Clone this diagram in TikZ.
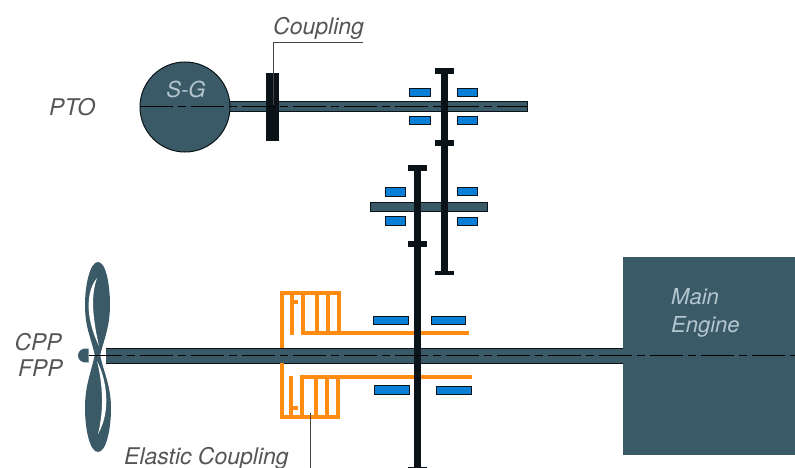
\documentclass[tikz,border=0pt]{standalone}
\usepackage{fontspec}
\setmainfont{TeX Gyre Heros}
\definecolor{steel}{HTML}{3B5A68}
\definecolor{inkblack}{HTML}{0A1418}
\definecolor{bearingblue}{HTML}{0A7FD8}
\definecolor{coupleorange}{HTML}{FF8C10}
\definecolor{labelgray}{HTML}{555555}
\definecolor{palelabel}{HTML}{B4C6CE}
\tikzset{
  shaft/.style={fill=steel,draw=inkblack,line width=0.8pt},
  bearing/.style={fill=bearingblue,draw=inkblack,line width=0.7pt},
  gearbar/.style={fill=inkblack,draw=none},
  clutch/.style={draw=coupleorange,line width=3.5pt,line cap=butt,line join=miter},
  axisline/.style={draw=black,line width=1pt,dash pattern=on 33pt off 5pt on 8pt off 5pt},
  leader/.style={draw=labelgray!80!black,line width=1pt},
  lab/.style={font=\itshape\fontsize{23}{26}\selectfont,text=labelgray,inner sep=0pt},
  palelab/.style={font=\itshape\fontsize{22}{25}\selectfont,text=palelabel,inner sep=0pt}
}
\begin{document}
\begin{tikzpicture}[x=1pt,y=-1pt]
\useasboundingbox (0,0) rectangle (795,468);
% engine
\fill[steel] (623,257) rectangle (795,455);
% PTO shaft and generator
\draw[shaft] (228,101.5) rectangle (527,111);
\draw[shaft,line width=1pt] (185,107) circle (45);
% intermediate shaft
\draw[shaft] (370,202) rectangle (487,211);
% main shaft
\fill[steel] (106,348) rectangle (623,363);
\draw[inkblack,line width=0.6pt] (106,348) -- (623,348) (106,363) -- (623,363);
% propeller
\fill[steel] (88.5,348.5) .. controls (82,347.5) and (78,351) .. (78,355.5)
  .. controls (78,360) and (82,363.5) .. (88.5,362.5) -- cycle;
\fill[steel] (95,356) .. controls (91,337) and (85,328) .. (85,305)
  .. controls (85,285) and (90,262) .. (98,262)
  .. controls (106,262) and (110,285) .. (110,305)
  .. controls (110,328) and (103,342) .. (100,356) -- cycle;
\fill[steel] (95,354) .. controls (91,373) and (85,385) .. (85,408)
  .. controls (85,430) and (90,452) .. (98,452)
  .. controls (106,452) and (111,430) .. (111,408)
  .. controls (111,385) and (103,371) .. (100,354) -- cycle;
\fill[white] (97,278) .. controls (87,290) and (84,315) .. (99,346)
  .. controls (92,315) and (91,295) .. (97,278) -- cycle;
\fill[white] (97,361) .. controls (106,378) and (112,410) .. (98,434)
  .. controls (104,410) and (103,385) .. (97,361) -- cycle;
% elastic coupling, upper half
\draw[clutch] (282,348) -- (282,293) -- (341,293);
\draw[clutch] (339,293) -- (339,333);
\draw[clutch] (328,293) -- (328,333);
\draw[clutch] (317,293) -- (317,335);
\draw[clutch] (303,293) -- (303,333);
\draw[clutch] (301.4,333) -- (469,333);
\draw[clutch] (292,293) -- (292,335);
\draw[clutch] (292,302) -- (298,302);
% elastic coupling, lower half
\draw[clutch] (282,363) -- (282,417) -- (340,417);
\draw[clutch] (338,377) -- (338,417);
\draw[clutch] (327,377) -- (327,417);
\draw[clutch] (316,377) -- (316,417);
\draw[clutch] (302,377) -- (302,417);
\draw[clutch] (300.4,377) -- (472,377);
\draw[clutch] (291,376) -- (291,417);
\draw[clutch] (291,408) -- (298,408);
% gears
\fill[gearbar] (440.5,71) rectangle (447.5,273);
\fill[gearbar] (435,68) rectangle (454,74);
\fill[gearbar] (435,140) rectangle (454,146);
\fill[gearbar] (435,270.5) rectangle (454,275);
\fill[gearbar] (413.5,168) rectangle (420.5,468);
\fill[gearbar] (408,165) rectangle (427,171);
\fill[gearbar] (408,241) rectangle (427,247);
\fill[gearbar] (408,466.5) rectangle (427,468);
% coupling block
\fill[inkblack] (265.5,73) rectangle (279,141);
% bearings
\draw[bearing] (409.5,88) rectangle (430,96);
\draw[bearing] (457,88) rectangle (477,96);
\draw[bearing] (409.5,116) rectangle (430,124);
\draw[bearing] (457,116) rectangle (477,124);
\draw[bearing] (385,187.5) rectangle (405,196);
\draw[bearing] (457,187) rectangle (477,195);
\draw[bearing] (385,216.5) rectangle (405,225);
\draw[bearing] (457,217) rectangle (477,225);
\draw[bearing] (373,316) rectangle (408,324);
\draw[bearing] (431,316.5) rectangle (465,324.5);
\draw[bearing] (374,385.5) rectangle (409,394);
\draw[bearing] (436.5,386) rectangle (471,394);
% centre lines
\draw[axisline] (140,107) -- (527,107);
\draw[axisline] (89,355.5) -- (795,355.5);
% labels
\node[lab,anchor=base west] (coupling) at (273,35) {Coupling};
\node[lab,anchor=base west] (pto) at (49,116) {PTO};
\node[palelab,anchor=base] (sg) at (186,98) {S-G};
\node[palelab,anchor=base west] (main) at (671,304) {Main};
\node[palelab,anchor=base west] (engine) at (671,332) {Engine};
\node[lab,anchor=base east] (cpp) at (62,350) {CPP};
\node[lab,anchor=base east] (fpp) at (63,376) {FPP};
\node[lab,anchor=base west] (elastic) at (124,464) {Elastic Coupling};
% leaders
\coordinate (cplblock) at (273,105);
\coordinate (cplcorner) at (273,43);
\coordinate (cplend) at (363,43);
\coordinate (elasticpack) at (310,413);
\coordinate (elasticend) at (310,468);
\draw[leader] (cplblock) -- (cplcorner) -- (cplend);
\draw[leader] (elasticpack) -- (elasticend);
\end{tikzpicture}
\end{document}
